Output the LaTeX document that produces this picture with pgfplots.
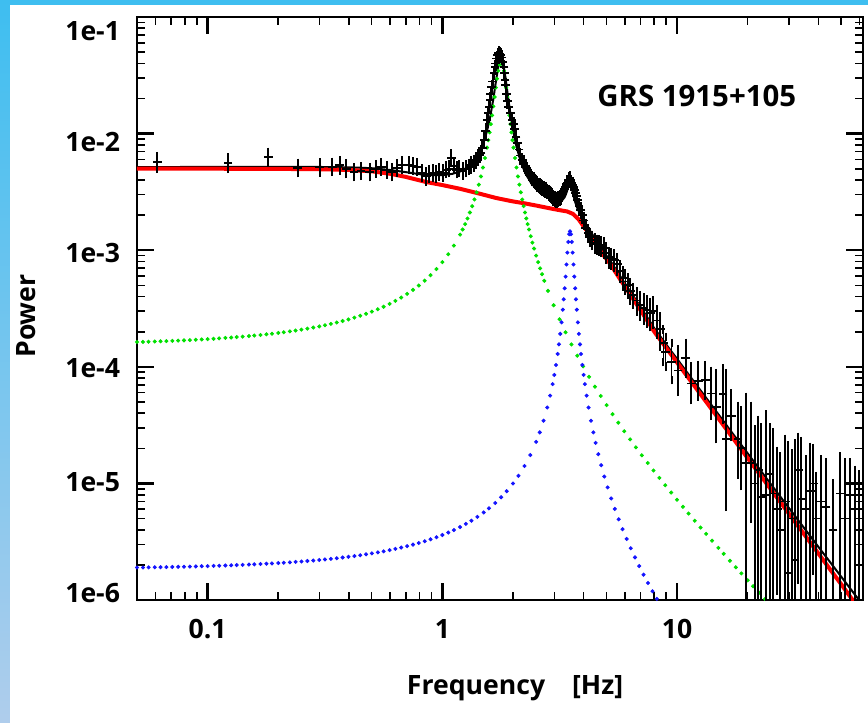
\documentclass[border=0pt]{standalone}
\usepackage{fontspec}
\setmainfont{Open Sans}
\usepackage{pgfplots}
\pgfplotsset{compat=1.18}
\usepackage{pgfplotstable}
\definecolor{mgreen}{RGB}{0,225,0}
\definecolor{mblue}{RGB}{20,20,255}
\definecolor{mred}{RGB}{255,0,0}
\definecolor{topblue}{RGB}{62,190,240}
\definecolor{botblue}{RGB}{175,205,236}
\newcommand{\lab}{\fontsize{13.3bp}{16bp}\selectfont\bfseries}
\newcommand{\titl}{\fontsize{14.7bp}{17bp}\selectfont\bfseries}

\pgfplotstableread{
f p ep em
0.061 5.7e-3 7e-4 7e-4
0.122 5.6e-3 6e-4 6e-4
0.181 6.3e-3 6.5e-4 6.5e-4
0.242 5.1e-3 5e-4 5e-4
0.30 5.15e-3 5e-4 5e-4
0.34 5.2e-3 5e-4 5e-4
0.365 5.35e-3 5e-4 5e-4
0.39 5.0e-3 5e-4 5e-4
0.42 4.7e-3 4.5e-4 4.5e-4
0.45 4.8e-3 4.5e-4 4.5e-4
0.49 4.7e-3 4.5e-4 4.5e-4
0.52 5.0e-3 4.5e-4 4.5e-4
0.55 5.2e-3 4.5e-4 4.5e-4
0.58 4.9e-3 4.5e-4 4.5e-4
0.61 4.7e-3 4.5e-4 4.5e-4
0.64 5.1e-3 4.5e-4 4.5e-4
0.67 5.4e-3 4.5e-4 4.5e-4
0.72 5.4e-3 4.5e-4 4.5e-4
0.75 5.3e-3 4.5e-4 4.5e-4
0.78 5.2e-3 4.5e-4 4.5e-4
0.82 4.6e-3 4e-4 4e-4
0.855 4.3e-3 4e-4 4e-4
0.88 4.5e-3 4e-4 4e-4
0.91 4.6e-3 4e-4 4e-4
0.94 4.5e-3 4e-4 4e-4
0.97 4.7e-3 4e-4 4e-4
1.01 4.6e-3 4e-4 4e-4
1.04 4.9e-3 4e-4 4e-4
1.07 5.0e-3 4e-4 4e-4
1.09 6.2e-3 5e-4 5e-4
1.12 5.3e-3 4e-4 4e-4
1.15 4.9e-3 4e-4 4e-4
1.18 5.0e-3 4e-4 4e-4
1.22 4.8e-3 4e-4 4e-4
1.26 5.0e-3 4e-4 4e-4
1.30 5.2e-3 4e-4 4e-4
1.33 5.4e-3 4.5e-4 4.5e-4
1.36 5.6e-3 4.5e-4 4.5e-4
1.39 5.9e-3 4.5e-4 4.5e-4
1.42 6.3e-3 5e-4 5e-4
1.44 6.6e-3 5e-4 5e-4
1.46 6.8e-3 5e-4 5e-4
1.48 7.5e-3 5.5e-4 5.5e-4
1.51 8.8e-3 6e-4 6e-4
1.53 1.05e-2 7e-4 7e-4
1.55 1.3e-2 8e-4 8e-4
1.565 1.5e-2 9e-4 9e-4
1.58 1.7e-2 1e-3 1e-3
1.595 1.95e-2 1.2e-3 1.2e-3
1.61 2.2e-2 1.3e-3 1.3e-3
1.625 2.5e-2 1.5e-3 1.5e-3
1.64 2.8e-2 1.6e-3 1.6e-3
1.66 3.3e-2 1.8e-3 1.8e-3
1.675 3.7e-2 2e-3 2e-3
1.69 4.0e-2 2.2e-3 2.2e-3
1.705 4.4e-2 2.4e-3 2.4e-3
1.72 4.7e-2 2.5e-3 2.5e-3
1.74 4.9e-2 2.5e-3 2.5e-3
1.76 4.8e-2 2.5e-3 2.5e-3
1.775 4.7e-2 2.5e-3 2.5e-3
1.79 4.5e-2 2.4e-3 2.4e-3
1.81 4.1e-2 2.2e-3 2.2e-3
1.83 3.7e-2 2e-3 2e-3
1.84 3.3e-2 1.8e-3 1.8e-3
1.85 2.9e-2 1.6e-3 1.6e-3
1.86 2.6e-2 1.5e-3 1.5e-3
1.87 2.2e-2 1.3e-3 1.3e-3
1.895 1.9e-2 1.1e-3 1.1e-3
1.92 1.7e-2 1e-3 1e-3
1.95 1.5e-2 9e-4 9e-4
1.98 1.31e-2 8e-4 8e-4
2.01 1.2e-2 7e-4 7e-4
2.03 1.1e-2 6.5e-4 6.5e-4
2.06 9.4e-3 5.5e-4 5.5e-4
2.09 8.3e-3 5e-4 5e-4
2.12 7.3e-3 4.5e-4 4.5e-4
2.15 6.5e-3 4e-4 4e-4
2.19 5.9e-3 3.5e-4 3.5e-4
2.22 5.5e-3 3.5e-4 3.5e-4
2.27 5.2e-3 3.2e-4 3.2e-4
2.30 4.9e-3 3e-4 3e-4
2.33 4.6e-3 3e-4 3e-4
2.36 4.45e-3 2.8e-4 2.8e-4
2.39 4.3e-3 2.8e-4 2.8e-4
2.42 4.1e-3 2.6e-4 2.6e-4
2.45 4.0e-3 2.6e-4 2.6e-4
2.48 3.9e-3 2.5e-4 2.5e-4
2.51 3.8e-3 2.5e-4 2.5e-4
2.54 3.7e-3 2.5e-4 2.5e-4
2.57 3.6e-3 2.4e-4 2.4e-4
2.60 3.55e-3 2.4e-4 2.4e-4
2.63 3.5e-3 2.4e-4 2.4e-4
2.66 3.45e-3 2.4e-4 2.4e-4
2.70 3.35e-3 2.3e-4 2.3e-4
2.73 3.3e-3 2.3e-4 2.3e-4
2.77 3.3e-3 2.3e-4 2.3e-4
2.80 3.2e-3 2.2e-4 2.2e-4
2.84 3.1e-3 2.2e-4 2.2e-4
2.87 3.05e-3 2.2e-4 2.2e-4
2.90 3.0e-3 2.2e-4 2.2e-4
2.93 2.9e-3 2.1e-4 2.1e-4
2.97 2.8e-3 2.1e-4 2.1e-4
3.01 2.75e-3 2.1e-4 2.1e-4
3.05 2.7e-3 2.1e-4 2.1e-4
3.08 2.7e-3 2.1e-4 2.1e-4
3.12 2.75e-3 2.1e-4 2.1e-4
3.16 2.8e-3 2.1e-4 2.1e-4
3.20 2.9e-3 2.2e-4 2.2e-4
3.24 3.05e-3 2.2e-4 2.2e-4
3.28 3.2e-3 2.3e-4 2.3e-4
3.32 3.35e-3 2.3e-4 2.3e-4
3.36 3.5e-3 2.4e-4 2.4e-4
3.41 3.8e-3 2.5e-4 2.5e-4
3.46 4.0e-3 2.6e-4 2.6e-4
3.50 4.1e-3 2.6e-4 2.6e-4
3.55 3.8e-3 2.5e-4 2.5e-4
3.59 3.65e-3 2.4e-4 2.4e-4
3.63 3.5e-3 2.4e-4 2.4e-4
3.67 3.3e-3 2.3e-4 2.3e-4
3.70 3.1e-3 2.2e-4 2.2e-4
3.73 2.9e-3 2.1e-4 2.1e-4
3.76 2.7e-3 2e-4 2e-4
3.82 2.4e-3 1.9e-4 1.9e-4
3.89 2.2e-3 1.8e-4 1.8e-4
3.95 2.0e-3 1.7e-4 1.7e-4
4.00 1.8e-3 1.6e-4 1.6e-4
4.08 1.55e-3 1.5e-4 1.5e-4
4.18 1.4e-3 1.4e-4 1.4e-4
4.25 1.3e-3 1.3e-4 1.3e-4
4.33 1.22e-3 1.3e-4 1.3e-4
4.45 1.15e-3 1.3e-4 1.3e-4
4.55 1.12e-3 1.3e-4 1.3e-4
4.64 1.1e-3 1.3e-4 1.3e-4
4.75 1.08e-3 1.3e-4 1.3e-4
4.87 1.05e-3 1.3e-4 1.3e-4
5.00 9.5e-4 1.2e-4 1.2e-4
5.12 8.7e-4 1.1e-4 1.1e-4
5.25 8.5e-4 1.1e-4 1.1e-4
5.40 8.2e-4 1.1e-4 1.1e-4
5.56 7.6e-4 1e-4 1e-4
5.72 6.6e-4 9e-5 9e-5
5.88 5.8e-4 9e-5 9e-5
6.03 5.4e-4 9e-5 9e-5
6.18 5.0e-4 8e-5 8e-5
6.33 4.5e-4 8e-5 8e-5
6.50 4.1e-4 7e-5 7e-5
6.73 3.7e-4 7e-5 7e-5
6.98 3.4e-4 7e-5 7e-5
7.22 3.2e-4 7e-5 7e-5
7.45 3.05e-4 7e-5 7e-5
7.68 2.9e-4 7e-5 7e-5
7.92 3.0e-4 7e-5 7e-5
8.20 2.5e-4 6e-5 6e-5
8.48 2.1e-4 6e-5 6e-5
8.75 1.6e-4 5e-5 5e-5
8.93 1.34e-4 4.6e-5 3.4e-5
9.48 1.1e-4 5.0e-5 3.3e-5
10.1 9.3e-5 4.7e-5 3.2e-5
10.9 1.19e-4 4.1e-5 3.1e-5
11.5 7.2e-5 2.8e-5 2.0e-5
12.3 7.6e-5 2.7e-5 2.0e-5
13.2 7.7e-5 2.6e-5 2.0e-5
14.0 5.9e-5 3.3e-5 2.1e-5
14.7 4.5e-5 4.3e-5 2.1e-5
15.7 5.8e-5 3.8e-5 2.3e-5
16.2 2.4e-5 6.4e-5 1.77e-5
17.0 3.8e-5 2.1e-5 1.3e-5
18.2 2.4e-5 2.2e-5 1.2e-5
18.8 2.0e-5 2.2e-5 1.05e-5
19.7 1.5e-5 4.0e-5 1.45e-5
20.7 1.5e-5 3.1e-5 1.0e-5
21.5 1.0e-5 1.9e-5 9.5e-6
22.2 1.3e-5 2.2e-5 1.25e-5
22.8 7.7e-6 2.23e-5 7.2e-6
24.0 8.0e-6 3.1e-5 7.5e-6
24.9 1.2e-5 1.8e-5 1.15e-5
25.7 8.2e-6 1.93e-5 7.7e-6
26.7 6.0e-6 1.3e-5 4.8e-6
27.5 4.0e-6 1.3e-5 3.5e-6
28.9 7.0e-6 1.7e-5 6.5e-6
29.7 1.7e-6 1.93e-5 1.2e-6
30.9 5.0e-6 1.3e-5 4.5e-6
31.8 2.2e-6 1.98e-5 1.7e-6
32.8 1.3e-5 1.2e-5 1.15e-5
33.8 7.3e-6 1.57e-5 6.8e-6
35.5 6.0e-6 1.0e-5 5.5e-6
36.9 8.6e-6 1.19e-5 8.1e-6
38.0 1.0e-5 1.0e-5 8.2e-6
39.1 5.0e-6 6.5e-6 4.5e-6
41.1 7.0e-6 9.0e-6 6.5e-6
43.1 6.3e-6 8.7e-6 5.8e-6
46.2 4.0e-6 6.0e-6 3.5e-6
49.5 8.2e-6 8.8e-6 7.7e-6
52.0 5.0e-6 1.0e-5 4.5e-6
54.6 8.0e-6 7.0e-6 7.5e-6
57.3 6.0e-6 7.0e-6 5.5e-6
59.6 5.0e-6 7.0e-6 4.5e-6
}\datatab

\pgfplotstableread{
f p
0.05 5.0e-3
0.1 5.0e-3
0.2 4.98e-3
0.3 4.95e-3
0.4 4.88e-3
0.5 4.75e-3
0.6 4.52e-3
0.7 4.25e-3
0.85 3.85e-3
1.0 3.62e-3
1.2 3.35e-3
1.4 3.1e-3
1.7 2.8e-3
2.0 2.62e-3
2.2 2.54e-3
2.5 2.42e-3
2.8 2.31e-3
3.1 2.22e-3
3.4 2.15e-3
3.6 2.05e-3
3.8 1.85e-3
4.0 1.6e-3
4.3 1.32e-3
4.7 9.9e-4
5.2 7.6e-4
5.7 5.7e-4
6.3 4.2e-4
7.0 3.05e-4
8.0 2.0e-4
9.0 1.45e-4
10 1.09e-4
12 6.64e-5
14 4.37e-5
17 2.57e-5
20 1.65e-5
25 9.0e-6
30 5.49e-6
35 3.61e-6
40 2.51e-6
45 1.82e-6
50 1.37e-6
56 1.0e-6
62 7.6e-7
}\redtab

\pgfplotstableread{
f p
0.05 5.165e-3
0.1 5.175e-3
0.2 5.177e-3
0.3 5.174e-3
0.4 5.138e-3
0.5 5.05e-3
0.6 4.87e-3
0.7 4.67e-3
0.85 4.41e-3
1.0 4.41e-3
1.1 4.51e-3
1.2 4.76e-3
1.3 5.24e-3
1.4 6.24e-3
1.5 8.42e-3
1.55 1.051e-2
1.6 1.40e-2
1.65 1.998e-2
1.7 2.99e-2
1.74 3.97e-2
1.78 4.47e-2
1.82 3.96e-2
1.86 2.98e-2
1.91 1.98e-2
1.96 1.374e-2
2.01 1.019e-2
2.06 8.03e-3
2.16 5.71e-3
2.26 4.56e-3
2.4 3.72e-3
2.6 3.12e-3
2.8 2.82e-3
3.0 2.66e-3
3.15 2.63e-3
3.25 2.70e-3
3.32 2.85e-3
3.38 3.11e-3
3.44 3.50e-3
3.5 3.72e-3
3.56 3.41e-3
3.62 2.94e-3
3.68 2.59e-3
3.75 2.32e-3
3.85 2.08e-3
4.0 1.78e-3
4.15 1.59e-3
4.3 1.43e-3
4.5 1.23e-3
4.7 1.063e-3
5.2 8.1e-4
5.7 6.07e-4
6.3 4.47e-4
7.0 3.25e-4
8.0 2.14e-4
9.0 1.55e-4
10 1.17e-4
12 7.14e-5
14 4.72e-5
17 2.79e-5
20 1.81e-5
25 9.96e-6
30 6.14e-6
35 4.08e-6
40 2.86e-6
45 2.10e-6
50 1.59e-6
56 1.18e-6
62 9.0e-7
}\tottab

\pgfplotstableread{
f p
0.05 1.630e-4
0.053 1.635e-4
0.056 1.641e-4
0.0595 1.648e-4
0.063 1.655e-4
0.0667 1.662e-4
0.0707 1.669e-4
0.0749 1.678e-4
0.0793 1.686e-4
0.084 1.696e-4
0.089 1.706e-4
0.0943 1.716e-4
0.1 1.728e-4
0.106 1.740e-4
0.112 1.753e-4
0.119 1.768e-4
0.126 1.782e-4
0.133 1.798e-4
0.141 1.815e-4
0.150 1.835e-4
0.158 1.853e-4
0.168 1.876e-4
0.178 1.900e-4
0.188 1.923e-4
0.2 1.953e-4
0.211 1.980e-4
0.224 2.013e-4
0.237 2.047e-4
0.251 2.084e-4
0.266 2.126e-4
0.282 2.171e-4
0.299 2.221e-4
0.316 2.272e-4
0.335 2.332e-4
0.355 2.398e-4
0.376 2.470e-4
0.398 2.548e-4
0.422 2.639e-4
0.447 2.738e-4
0.473 2.847e-4
0.501 2.972e-4
0.531 3.116e-4
0.562 3.275e-4
0.596 3.465e-4
0.631 3.677e-4
0.668 3.923e-4
0.708 4.219e-4
0.750 4.566e-4
0.794 4.977e-4
0.841 5.481e-4
0.891 6.106e-4
0.944 6.891e-4
1.0 7.898e-4
1.06 9.238e-4
1.12 1.095e-3
1.19 1.361e-3
1.22 1.505e-3
1.25 1.674e-3
1.28 1.872e-3
1.31 2.105e-3
1.34 2.385e-3
1.37 2.724e-3
1.40 3.137e-3
1.43 3.649e-3
1.46 4.292e-3
1.49 5.112e-3
1.52 6.177e-3
1.55 7.583e-3
1.57 8.780e-3
1.59 1.0248e-2
1.61 1.2068e-2
1.63 1.4334e-2
1.65 1.7137e-2
1.67 2.0592e-2
1.69 2.4746e-2
1.71 2.9517e-2
1.73 3.4584e-2
1.75 3.899e-2
1.77 4.164e-2
1.79 4.164e-2
1.81 3.899e-2
1.83 3.4584e-2
1.85 2.9517e-2
1.87 2.4746e-2
1.89 2.0592e-2
1.91 1.7137e-2
1.93 1.4334e-2
1.95 1.2068e-2
1.97 1.0248e-2
1.99 8.780e-3
2.01 7.583e-3
2.04 6.177e-3
2.07 5.112e-3
2.10 4.292e-3
2.13 3.649e-3
2.16 3.137e-3
2.19 2.724e-3
2.22 2.385e-3
2.25 2.105e-3
2.28 1.872e-3
2.31 1.674e-3
2.34 1.505e-3
2.38 1.318e-3
2.42 1.162e-3
2.46 1.033e-3
2.51 8.992e-4
2.56 7.897e-4
2.61 6.990e-4
2.66 6.230e-4
2.72 5.470e-4
2.82 4.479e-4
2.98 3.373e-4
3.16 2.556e-4
3.35 1.977e-4
3.55 1.557e-4
3.76 1.245e-4
3.98 1.009e-4
4.22 8.209e-5
4.47 6.757e-5
4.73 5.620e-5
5.01 4.689e-5
5.31 3.926e-5
5.62 3.318e-5
5.96 2.801e-5
6.31 2.385e-5
6.68 2.039e-5
7.08 1.743e-5
7.50 1.496e-5
7.94 1.290e-5
8.41 1.114e-5
8.91 9.631e-6
9.44 8.344e-6
10.0 7.246e-6
10.6 6.294e-6
11.2 5.518e-6
11.9 4.781e-6
12.6 4.183e-6
13.3 3.690e-6
14.1 3.226e-6
15.0 2.802e-6
15.8 2.491e-6
16.8 2.171e-6
17.8 1.908e-6
18.8 1.690e-6
20.0 1.475e-6
21.1 1.312e-6
22.4 1.152e-6
23.7 1.019e-6
25.1 9.00e-7
}\greentab

\pgfplotstableread{
f p
0.05 1.898e-6
0.053 1.901e-6
0.056 1.905e-6
0.0595 1.909e-6
0.063 1.912e-6
0.0667 1.916e-6
0.0707 1.921e-6
0.0749 1.926e-6
0.0793 1.931e-6
0.084 1.936e-6
0.089 1.942e-6
0.0943 1.948e-6
0.1 1.954e-6
0.106 1.961e-6
0.112 1.968e-6
0.119 1.976e-6
0.126 1.984e-6
0.133 1.993e-6
0.141 2.002e-6
0.150 2.013e-6
0.158 2.022e-6
0.168 2.035e-6
0.178 2.047e-6
0.188 2.059e-6
0.2 2.074e-6
0.211 2.088e-6
0.224 2.105e-6
0.237 2.121e-6
0.251 2.140e-6
0.266 2.160e-6
0.282 2.181e-6
0.299 2.204e-6
0.316 2.228e-6
0.335 2.255e-6
0.355 2.283e-6
0.376 2.314e-6
0.398 2.347e-6
0.422 2.384e-6
0.447 2.423e-6
0.473 2.465e-6
0.501 2.511e-6
0.531 2.562e-6
0.562 2.616e-6
0.596 2.677e-6
0.631 2.743e-6
0.668 2.815e-6
0.708 2.896e-6
0.750 2.985e-6
0.794 3.083e-6
0.841 3.192e-6
0.891 3.316e-6
0.944 3.454e-6
1.0 3.610e-6
1.06 3.789e-6
1.12 3.982e-6
1.19 4.227e-6
1.26 4.494e-6
1.33 4.788e-6
1.41 5.160e-6
1.50 5.633e-6
1.58 6.110e-6
1.68 6.797e-6
1.78 7.606e-6
1.88 8.568e-6
2.0 9.984e-6
2.11 1.161e-5
2.24 1.411e-5
2.37 1.750e-5
2.51 2.272e-5
2.60 2.740e-5
2.70 3.450e-5
2.80 4.474e-5
2.88 5.655e-5
2.95 7.111e-5
3.00 8.517e-5
3.05 1.037e-4
3.10 1.288e-4
3.14 1.558e-4
3.18 1.917e-4
3.22 2.406e-4
3.26 3.090e-4
3.29 3.789e-4
3.32 4.713e-4
3.35 5.937e-4
3.38 7.540e-4
3.41 9.544e-4
3.44 1.178e-3
3.47 1.371e-3
3.50 1.450e-3
3.53 1.371e-3
3.56 1.178e-3
3.59 9.544e-4
3.62 7.540e-4
3.65 5.937e-4
3.68 4.713e-4
3.71 3.789e-4
3.74 3.090e-4
3.78 2.406e-4
3.82 1.917e-4
3.86 1.558e-4
3.90 1.288e-4
3.95 1.037e-4
4.00 8.517e-5
4.05 7.111e-5
4.12 5.655e-5
4.20 4.474e-5
4.30 3.450e-5
4.40 2.740e-5
4.50 2.227e-5
4.62 1.781e-5
4.75 1.433e-5
4.90 1.145e-5
5.06 9.236e-6
5.24 7.433e-6
5.43 6.047e-6
5.64 4.923e-6
5.86 4.050e-6
6.10 3.338e-6
6.35 2.780e-6
6.62 2.320e-6
6.90 1.954e-6
7.20 1.650e-6
7.52 1.398e-6
7.86 1.189e-6
8.20 1.023e-6
8.55 8.86e-7
}\bluetab

\begin{document}
\begin{tikzpicture}
\shade[top color=topblue,bottom color=botblue] (0,0) rectangle (434bp,361.5bp);
\fill[white] (5bp,0) rectangle (434bp,359bp);
\begin{axis}[
  at={(68.5bp,61.5bp)}, anchor=south west,
  scale only axis, width=363bp, height=291.5bp,
  xmode=log, ymode=log,
  xmin=0.05, xmax=62, ymin=1e-6, ymax=1e-1,
  axis line style={line width=1.4bp},
  tick align=inside, xtick pos=both, ytick pos=both,
  xticklabel pos=lower, yticklabel pos=left,
  major tick length=8.5bp, minor tick length=4bp,
  major tick style={black,line width=1.2bp},
  minor tick style={black,line width=0.8bp},
  xtick={0.1,1,10}, xticklabels={0.1,1,10},
  minor xtick={0.06,0.07,0.08,0.09,0.2,0.3,0.4,0.5,0.6,0.7,0.8,0.9,2,3,4,5,6,7,8,9,20,30,40,50,60},
  ytick={1e-6,1e-5,1e-4,1e-3,1e-2,1e-1}, yticklabels={},
  minor ytick={2e-6,3e-6,4e-6,5e-6,6e-6,7e-6,8e-6,9e-6,2e-5,3e-5,4e-5,5e-5,6e-5,7e-5,8e-5,9e-5,2e-4,3e-4,4e-4,5e-4,6e-4,7e-4,8e-4,9e-4,2e-3,3e-3,4e-3,5e-3,6e-3,7e-3,8e-3,9e-3,2e-2,3e-2,4e-2,5e-2,6e-2,7e-2,8e-2,9e-2},
  xticklabel style={font=\lab, inner sep=0pt, anchor=north, yshift=-9.5bp},
  clip mode=individual,
  xlabel={Frequency\hspace{13.5bp}[Hz]},
  xlabel style={font=\lab, at={(axis description cs:0.5207,-0.151)}, anchor=center},
  ylabel={Power},
  ylabel style={font=\lab, at={(axis description cs:-0.1522,0.487)}, anchor=center},
]
\addplot[black, line width=1bp, no marks] table[x=f,y=p]{\tottab};
\addplot[mred, line width=2bp, no marks] table[x=f,y=p]{\redtab};
\addplot[mgreen, only marks, mark=*, mark size=0.8bp] table[x=f,y=p]{\greentab};
\addplot[mblue, only marks, mark=*, mark size=0.8bp] table[x=f,y=p]{\bluetab};
\addplot[black, only marks, mark=-, mark size=2.2bp, line width=0.9bp,
  error bars/.cd, y dir=both, y explicit,
  error bar style={line width=0.9bp},
  error mark options={black, line width=1bp, mark size=2.2bp}]
  table[x=f,y=p,y error plus=ep,y error minus=em]{\datatab};
\node[font=\titl] at (rel axis cs:0.771,0.8645) {GRS 1915+105};
\node[font=\lab, anchor=east, xshift=-5bp, yshift=-7bp] at (axis cs:0.05,1e-1) {1e-1};
\node[font=\lab, anchor=east, xshift=-5bp, yshift=-4bp] at (axis cs:0.05,1e-2) {1e-2};
\node[font=\lab, anchor=east, xshift=-5bp, yshift=-1.5bp] at (axis cs:0.05,1e-3) {1e-3};
\node[font=\lab, anchor=east, xshift=-5bp, yshift=-0.5bp] at (axis cs:0.05,1e-4) {1e-4};
\node[font=\lab, anchor=east, xshift=-5bp, yshift=0.5bp] at (axis cs:0.05,1e-5) {1e-5};
\node[font=\lab, anchor=east, xshift=-5bp, yshift=3.5bp] at (axis cs:0.05,1e-6) {1e-6};
\end{axis}
\end{tikzpicture}
\end{document}
